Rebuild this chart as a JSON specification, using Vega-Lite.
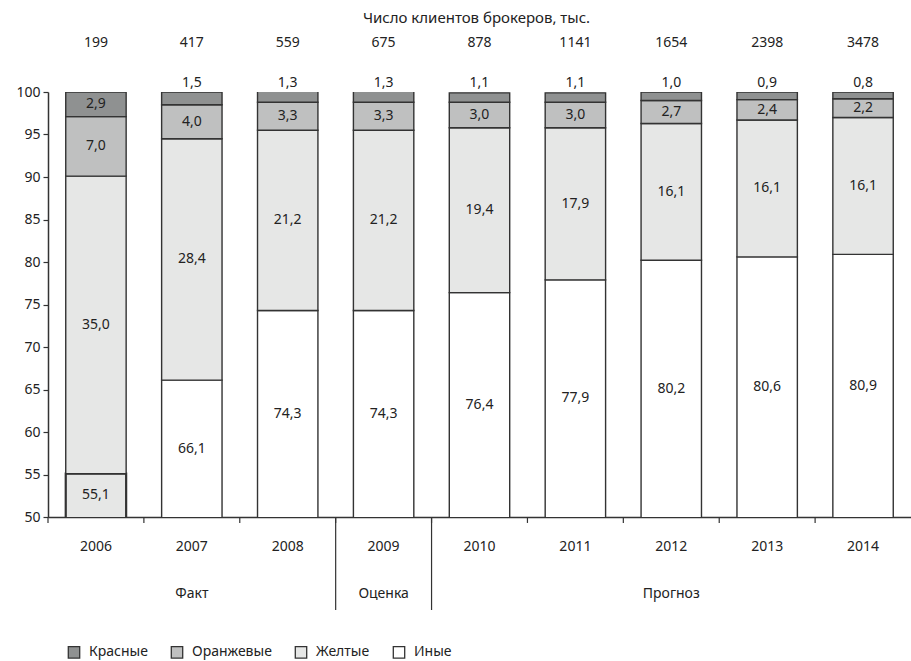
{
  "$schema": "https://vega.github.io/schema/vega-lite/v6.json",
  "width": 863,
  "height": 425,
  "autosize": "none",
  "padding": {"left": 48, "top": 92, "right": 0, "bottom": 144},
  "background": "white",
  "config": {
    "locale": {"number": {"decimal": ",", "thousands": " ", "grouping": [3], "currency": ["", " ₽"]}},
    "font": "Noto Sans",
    "view": {"stroke": null},
    "axis": {"labelFont": "Noto Sans", "labelFontSize": 14, "labelColor": "#222", "domainColor": "#333", "tickColor": "#333", "grid": false},
    "text": {"font": "Noto Sans", "fontSize": 14, "color": "#222"}
  },
  "datasets": {
    "shares": [
      {"year": "2006", "cat": "Иные", "v": 55.1}, {"year": "2006", "cat": "Желтые", "v": 35.0}, {"year": "2006", "cat": "Оранжевые", "v": 7.0}, {"year": "2006", "cat": "Красные", "v": 2.9},
      {"year": "2007", "cat": "Иные", "v": 66.1}, {"year": "2007", "cat": "Желтые", "v": 28.4}, {"year": "2007", "cat": "Оранжевые", "v": 4.0}, {"year": "2007", "cat": "Красные", "v": 1.5},
      {"year": "2008", "cat": "Иные", "v": 74.3}, {"year": "2008", "cat": "Желтые", "v": 21.2}, {"year": "2008", "cat": "Оранжевые", "v": 3.3}, {"year": "2008", "cat": "Красные", "v": 1.3},
      {"year": "2009", "cat": "Иные", "v": 74.3}, {"year": "2009", "cat": "Желтые", "v": 21.2}, {"year": "2009", "cat": "Оранжевые", "v": 3.3}, {"year": "2009", "cat": "Красные", "v": 1.3},
      {"year": "2010", "cat": "Иные", "v": 76.4}, {"year": "2010", "cat": "Желтые", "v": 19.4}, {"year": "2010", "cat": "Оранжевые", "v": 3.0}, {"year": "2010", "cat": "Красные", "v": 1.1},
      {"year": "2011", "cat": "Иные", "v": 77.9}, {"year": "2011", "cat": "Желтые", "v": 17.9}, {"year": "2011", "cat": "Оранжевые", "v": 3.0}, {"year": "2011", "cat": "Красные", "v": 1.1},
      {"year": "2012", "cat": "Иные", "v": 80.2}, {"year": "2012", "cat": "Желтые", "v": 16.1}, {"year": "2012", "cat": "Оранжевые", "v": 2.7}, {"year": "2012", "cat": "Красные", "v": 1.0},
      {"year": "2013", "cat": "Иные", "v": 80.6}, {"year": "2013", "cat": "Желтые", "v": 16.1}, {"year": "2013", "cat": "Оранжевые", "v": 2.4}, {"year": "2013", "cat": "Красные", "v": 0.9},
      {"year": "2014", "cat": "Иные", "v": 80.9}, {"year": "2014", "cat": "Желтые", "v": 16.1}, {"year": "2014", "cat": "Оранжевые", "v": 2.2}, {"year": "2014", "cat": "Красные", "v": 0.8}
    ],
    "clients": [
      {"year": "2006", "n": 199}, {"year": "2007", "n": 417}, {"year": "2008", "n": 559},
      {"year": "2009", "n": 675}, {"year": "2010", "n": 878}, {"year": "2011", "n": 1141},
      {"year": "2012", "n": 1654}, {"year": "2013", "n": 2398}, {"year": "2014", "n": 3478}
    ],
    "groups": [
      {"year": "2007", "label": "Факт"},
      {"year": "2009", "label": "Оценка"},
      {"year": "2012", "label": "Прогноз"}
    ]
  },
  "encoding": {
    "x": {
      "field": "year", "type": "ordinal",
      "scale": {"paddingInner": 0, "paddingOuter": 0},
      "axis": {"title": null, "labelAngle": 0, "ticks": false, "labelPadding": 22, "domainWidth": 1.5}
    }
  },
  "layer": [
    {
      "data": {"name": "shares"},
      "transform": [
        {"calculate": "indexof(['Иные','Желтые','Оранжевые','Красные'], datum.cat)", "as": "ord"},
        {"stack": "v", "groupby": ["year"], "sort": [{"field": "ord", "order": "ascending"}], "as": ["y0", "y1"]}
      ],
      "layer": [
        {
          "mark": {"type": "bar", "width": {"band": 0.63}, "clip": true, "stroke": "#333"},
          "encoding": {
            "y": {
              "field": "y0", "type": "quantitative",
              "scale": {"domain": [50, 100], "zero": false, "nice": false},
              "axis": {"title": null, "values": [50, 55, 60, 65, 70, 75, 80, 85, 90, 95, 100], "tickSize": 5, "tickWidth": 1.2, "labelPadding": 3, "domainWidth": 1.5}
            },
            "y2": {"field": "y1"},
            "fill": {
              "condition": {"test": "datum.year === '2006' && datum.cat === 'Иные'", "value": "#e6e7e6"},
              "field": "cat", "type": "nominal",
              "scale": {"domain": ["Красные", "Оранжевые", "Желтые", "Иные"], "range": ["#8f9191", "#bfc0c0", "#e6e7e6", "#ffffff"]},
              "legend": {
                "orient": "none", "legendX": 19, "legendY": 553, "direction": "horizontal", "columns": 4,
                "title": null, "symbolType": "square", "symbolSize": 130, "symbolStrokeColor": "#333",
                "symbolStrokeWidth": 1.3, "symbolOpacity": 1, "labelFontSize": 14, "labelFont": "Noto Sans",
                "labelColor": "#222", "labelOffset": 8, "columnPadding": 20
              }
            },
            "strokeWidth": {"condition": {"test": "datum.year === '2006' && datum.cat === 'Иные'", "value": 2.2}, "value": 1.4}
          }
        },
        {
          "transform": [
            {"calculate": "datum.cat === 'Красные' && datum.v < 2 ? 101.1 : (max(datum.y0, 50) + datum.y1) / 2", "as": "ly"}
          ],
          "mark": {"type": "text", "baseline": "middle"},
          "encoding": {
            "y": {"field": "ly", "type": "quantitative"},
            "text": {"field": "v", "type": "quantitative", "format": ".1f"}
          }
        }
      ]
    },
    {
      "data": {"name": "clients"},
      "mark": {"type": "text", "baseline": "middle"},
      "encoding": {
        "y": {"datum": 105.76},
        "text": {"field": "n", "type": "quantitative", "format": "d"}
      }
    },
    {
      "data": {"name": "clients"},
      "mark": {"type": "rule", "color": "#333", "strokeWidth": 1.2},
      "encoding": {
        "x": {"field": "year", "type": "ordinal", "bandPosition": 0},
        "y": {"datum": 50},
        "y2": {"datum": 49.3}
      }
    },
    {
      "data": {"name": "clients"},
      "transform": [{"filter": "datum.year === '2009' || datum.year === '2010'"}],
      "mark": {"type": "rule", "color": "#333", "strokeWidth": 1.2},
      "encoding": {
        "x": {"field": "year", "type": "ordinal", "bandPosition": 0},
        "y": {"datum": 50},
        "y2": {"datum": 39.06}
      }
    },
    {
      "data": {"name": "groups"},
      "mark": {"type": "text", "baseline": "middle"},
      "encoding": {
        "y": {"datum": 40.94},
        "text": {"field": "label", "type": "nominal"}
      }
    },
    {
      "data": {"values": [{"t": "Число клиентов брокеров, тыс."}]},
      "mark": {"type": "text", "baseline": "middle", "dx": -3, "fontSize": 15},
      "encoding": {
        "x": {"datum": "2010"},
        "y": {"datum": 108.7},
        "text": {"field": "t", "type": "nominal"}
      }
    }
  ]
}
